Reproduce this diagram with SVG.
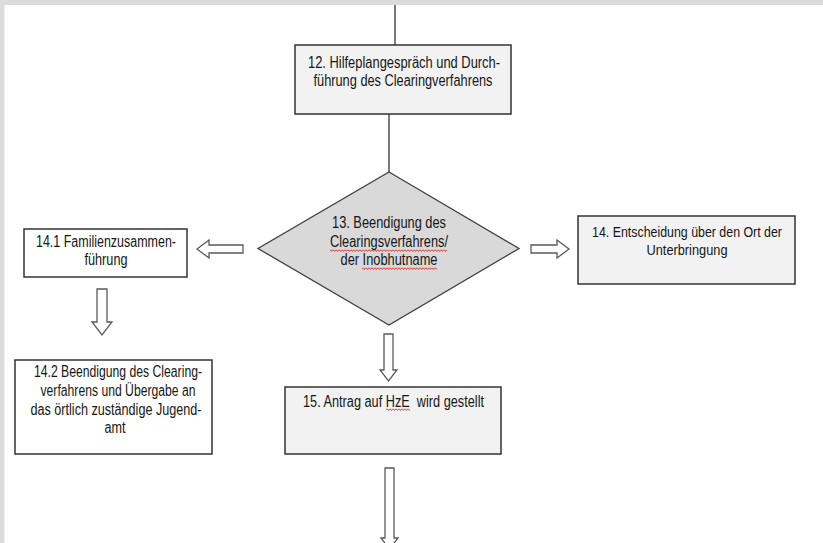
<svg xmlns="http://www.w3.org/2000/svg" width="823" height="543" viewBox="0 0 823 543">
  <defs>
    <pattern id="wave" width="3" height="3" patternUnits="userSpaceOnUse">
      <polyline points="0,0.6 1.5,2.4 3,0.6" fill="none" stroke="#e02020" stroke-width="0.9"/>
    </pattern>
  </defs>
  <style>
    .box { stroke: #333333; stroke-width: 1.5; }
    .grey { fill: #f2f2f2; }
    .white { fill: #ffffff; }
    .dia { fill: #d9d9d9; stroke: #404040; stroke-width: 1.3; }
    .line { stroke: #222222; stroke-width: 1.2; fill: none; }
    .blk { fill: #ffffff; stroke: #5a5a5a; stroke-width: 1.3; stroke-linejoin: miter; }
    text { font-family: "Liberation Sans", Arial, sans-serif; font-size: 16px; fill: #161616; text-anchor: middle; }
    .sm { font-size: 15.5px; }
  </style>
  <rect x="0" y="0" width="823" height="543" fill="#dcdcdc"/>
  <rect x="4.5" y="5" width="818.5" height="538" fill="#ffffff"/>

  <g id="connectors">
    <line class="line" x1="395" y1="5" x2="395" y2="45"/>
    <line class="line" x1="389" y1="114" x2="389" y2="172"/>
    <polygon class="blk" points="243,245 209,245 209,240 197,249 209,258 209,253 243,253"/>
    <polygon class="blk" points="531,245 557,245 557,240 569,249 557,258 557,253 531,253"/>
    <polygon class="blk" points="97,289 107,289 107,322 112,322 102,335 92,322 97,322"/>
    <polygon class="blk" points="384,334 393,334 393,370 397,370 388.5,381 380,370 384,370"/>
    <polygon class="blk" points="385,468 394,468 394,538 398,538 389.5,549 381,538 385,538"/>
  </g>

  <g id="node12">
    <rect class="box grey" x="295" y="45" width="216" height="69"/>
    <text x="404" y="68" textLength="192" lengthAdjust="spacingAndGlyphs">12. Hilfeplangespräch und Durch-</text>
    <text x="403" y="86" textLength="179" lengthAdjust="spacingAndGlyphs">führung des Clearingverfahrens</text>
  </g>

  <g id="node13">
    <polygon class="dia" points="389,172 519,248.5 389,325 258,248.5"/>
    <text x="389" y="228" textLength="114" lengthAdjust="spacingAndGlyphs">13. Beendigung des</text>
    <text x="389" y="247" textLength="118" lengthAdjust="spacingAndGlyphs">Clearingsverfahrens/</text>
    <text x="389" y="265" textLength="97" lengthAdjust="spacingAndGlyphs">der Inobhutname</text>
    <rect x="330" y="249" width="117" height="3" fill="url(#wave)"/>
    <rect x="362" y="267" width="75" height="3" fill="url(#wave)"/>
  </g>

  <g id="node14">
    <rect class="box grey" x="578" y="216" width="217" height="68"/>
    <text class="sm" transform="translate(687,237) scale(0.8,1)" x="0" y="0">14. Entscheidung über den Ort der</text>
    <text class="sm" x="687" y="255" textLength="81" lengthAdjust="spacingAndGlyphs">Unterbringung</text>
  </g>

  <g id="node14_1">
    <rect class="box white" x="24" y="229" width="163" height="48"/>
    <text x="106" y="247" textLength="140" lengthAdjust="spacingAndGlyphs">14.1 Familienzusammen-</text>
    <text x="106" y="265" textLength="43" lengthAdjust="spacingAndGlyphs">führung</text>
  </g>

  <g id="node14_2">
    <rect class="box white" x="15" y="360" width="197" height="94"/>
    <text x="118" y="377" textLength="168" lengthAdjust="spacingAndGlyphs">14.2 Beendigung des Clearing-</text>
    <text x="118" y="396" textLength="155" lengthAdjust="spacingAndGlyphs">verfahrens und Übergabe an</text>
    <text x="116" y="415" textLength="171" lengthAdjust="spacingAndGlyphs">das örtlich zuständige Jugend-</text>
    <text x="115" y="433" textLength="21" lengthAdjust="spacingAndGlyphs">amt</text>
  </g>

  <g id="node15">
    <rect class="box grey" x="285" y="387" width="216" height="67"/>
    <text x="393.5" y="407" textLength="181" lengthAdjust="spacingAndGlyphs" xml:space="preserve">15. Antrag auf HzE  wird gestellt</text>
    <rect x="386" y="408" width="24" height="3" fill="url(#wave)"/>
  </g>
</svg>
